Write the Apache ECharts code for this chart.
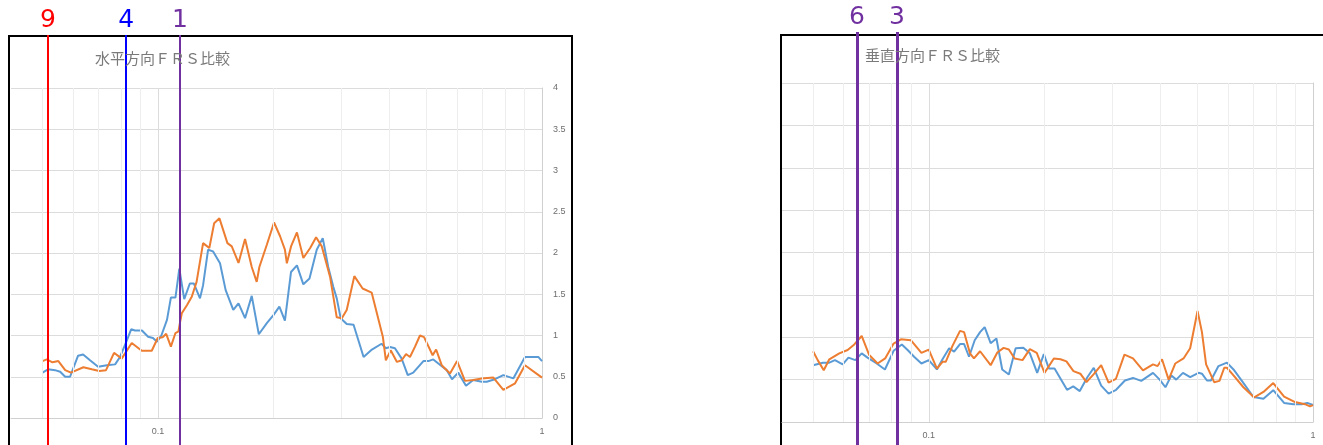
<!DOCTYPE html>
<html>
<head>
<meta charset="utf-8">
<script src="https://cdn.jsdelivr.net/npm/echarts@6/dist/echarts.min.js"></script>
<style>
html,body{margin:0;padding:0;background:#fff;}
#c{width:1323px;height:445px;}
</style>
</head>
<body>
<div id="c"></div>
<script>
// ---- Data ----
// 水平方向 (horizontal) panel
const hFreqBlue = [0.050,0.0517,0.0539,0.0556,0.0573,0.0590,0.0619,0.0638,0.0665,0.0698,0.0736,0.0773,0.0796,0.0826,0.0851,0.0871,0.0908,0.0942,0.0970,0.0994,0.102,0.1055,0.108,0.111,0.1136,0.117,0.121,0.124,0.1286,0.131,0.135,0.139,0.145,0.150,0.157,0.162,0.1685,0.1754,0.183,0.192,0.200,0.207,0.214,0.222,0.230,0.239,0.248,0.259,0.2685,0.2775,0.286,0.292,0.299,0.310,0.323,0.343,0.3606,0.382,0.392,0.402,0.414,0.431,0.447,0.462,0.491,0.506,0.521,0.537,0.565,0.583,0.605,0.634,0.662,0.697,0.718,0.754,0.793,0.842,0.903,0.978,1.0];
const hBlue = [0.55,0.59,0.58,0.56,0.50,0.50,0.755,0.77,0.70,0.62,0.64,0.65,0.74,0.92,1.075,1.06,1.06,0.985,0.97,0.925,1.0,1.19,1.46,1.46,1.81,1.44,1.63,1.63,1.45,1.61,2.04,2.02,1.875,1.55,1.31,1.39,1.21,1.48,1.015,1.15,1.25,1.35,1.18,1.77,1.85,1.62,1.69,2.04,2.18,1.83,1.59,1.45,1.21,1.14,1.13,0.74,0.83,0.90,0.845,0.86,0.845,0.72,0.52,0.55,0.69,0.69,0.71,0.66,0.58,0.47,0.55,0.39,0.46,0.44,0.44,0.47,0.52,0.48,0.74,0.74,0.69];
const hFreqOrange = [0.050,0.0513,0.0531,0.0550,0.0573,0.0593,0.0639,0.0672,0.0703,0.0732,0.0768,0.0804,0.0854,0.0907,0.0963,0.0998,0.1028,0.105,0.108,0.111,0.113,0.114,0.1153,0.119,0.1224,0.126,0.131,0.136,0.140,0.1445,0.1516,0.1556,0.162,0.1685,0.1754,0.1807,0.1836,0.192,0.2005,0.208,0.214,0.2165,0.222,0.230,0.239,0.249,0.258,0.267,0.2806,0.292,0.301,0.310,0.3245,0.341,0.360,0.385,0.392,0.4036,0.419,0.431,0.4425,0.453,0.467,0.481,0.493,0.519,0.530,0.548,0.576,0.601,0.630,0.662,0.697,0.747,0.793,0.851,0.903,1.0];
const hOrange = [0.69,0.71,0.675,0.69,0.58,0.55,0.615,0.59,0.57,0.58,0.79,0.72,0.91,0.815,0.815,0.97,0.98,1.02,0.865,1.03,1.05,1.15,1.27,1.37,1.47,1.65,2.12,2.06,2.36,2.42,2.12,2.08,1.88,2.17,1.83,1.65,1.83,2.10,2.37,2.20,2.04,1.875,2.08,2.25,1.94,2.06,2.19,2.08,1.71,1.22,1.21,1.31,1.72,1.57,1.52,0.985,0.70,0.82,0.68,0.70,0.775,0.74,0.865,1.0,0.98,0.76,0.83,0.64,0.54,0.69,0.45,0.46,0.48,0.49,0.34,0.42,0.64,0.49];

// 垂直方向 (vertical) panel
const vFreqBlue = [0.050,0.053,0.0551,0.0570,0.0597,0.0618,0.0644,0.0669,0.0693,0.0732,0.0769,0.0810,0.0851,0.0881,0.0916,0.0957,0.100,0.105,0.1086,0.113,0.1164,0.1206,0.1236,0.1273,0.1317,0.136,0.1398,0.1449,0.150,0.1553,0.1616,0.1683,0.1762,0.1833,0.1915,0.1993,0.2054,0.2125,0.229,0.2377,0.2472,0.2584,0.2688,0.281,0.2938,0.3073,0.324,0.340,0.3573,0.3834,0.399,0.413,0.428,0.4406,0.4587,0.479,0.5036,0.514,0.5297,0.5424,0.5675,0.597,0.621,0.653,0.6998,0.743,0.788,0.841,0.889,0.934,0.966,1.0];
const vBlue = [0.67,0.70,0.70,0.73,0.68,0.76,0.73,0.81,0.76,0.69,0.62,0.84,0.915,0.85,0.77,0.69,0.73,0.62,0.74,0.87,0.83,0.92,0.92,0.77,0.965,1.06,1.12,0.93,0.985,0.62,0.56,0.87,0.875,0.81,0.58,0.80,0.63,0.63,0.38,0.42,0.365,0.525,0.64,0.43,0.335,0.38,0.49,0.52,0.485,0.58,0.50,0.41,0.55,0.50,0.58,0.53,0.58,0.57,0.49,0.49,0.66,0.70,0.62,0.485,0.295,0.275,0.375,0.225,0.21,0.21,0.225,0.20];
const vFreqOrange = [0.050,0.0514,0.0533,0.0551,0.0585,0.0615,0.064,0.0669,0.070,0.0736,0.077,0.081,0.0846,0.0898,0.0957,0.100,0.105,0.1086,0.1107,0.1152,0.1206,0.1236,0.128,0.1311,0.136,0.1449,0.1508,0.1566,0.1616,0.1673,0.1754,0.1833,0.191,0.2001,0.2116,0.2203,0.2282,0.238,0.248,0.2573,0.2688,0.281,0.2938,0.307,0.323,0.340,0.361,0.3834,0.394,0.4046,0.421,0.438,0.4603,0.479,0.5006,0.514,0.527,0.553,0.571,0.5875,0.597,0.621,0.659,0.703,0.743,0.788,0.841,0.898,0.953,0.982,1.0];
const vOrange = [0.835,0.73,0.61,0.74,0.81,0.85,0.915,1.015,0.79,0.69,0.75,0.925,0.975,0.965,0.815,0.855,0.63,0.71,0.71,0.895,1.075,1.06,0.81,0.75,0.835,0.67,0.82,0.875,0.855,0.75,0.73,0.86,0.815,0.58,0.75,0.74,0.715,0.60,0.57,0.47,0.565,0.67,0.465,0.51,0.795,0.75,0.61,0.68,0.66,0.74,0.50,0.69,0.75,0.87,1.31,1.06,0.68,0.47,0.485,0.64,0.64,0.55,0.41,0.29,0.355,0.46,0.30,0.235,0.21,0.185,0.20];

// Marker lines (frequency, label)
const hMarkFreq = [0.0517, 0.0826, 0.114];
const hMarkLabel = ['9', '4', '1'];
const vMarkFreq = [0.065, 0.0826];
const vMarkLabel = ['6', '3'];

// Log-axis gridline values and titles
const gridFreqs = [0.05,0.06,0.07,0.08,0.09,0.1,0.2,0.3,0.4,0.5,0.6,0.7,0.8,0.9];
const titles = ['水平方向ＦＲＳ比較', '垂直方向ＦＲＳ比較'];

// ---- Styles ----
const hMarkColor = ['#ff0000', '#0000ff', '#7030a0'];
const vMarkColor = ['#7030a0', '#7030a0'];
const BLUE = '#5b9bd5', ORANGE = '#ed7d31';
const GRID_MAJOR = '#dcdcdc', GRID_MINOR = '#eeeeee';
const LABEL = '#6e6e6e';

const zip = (xs, ys) => xs.map((x, i) => [x, ys[i]]);

const chart = echarts.init(document.getElementById('c'), null, {renderer: 'canvas'});

function xLog(gridIndex, min, visible) {
  return {
    type: 'log', logBase: 10, gridIndex, min, max: 1,
    show: visible,
    axisLine: {show: true, onZero: false, lineStyle: {color: '#d0d0d0', width: 1}},
    axisTick: {show: false},
    splitLine: {show: false},
    axisLabel: {show: visible, showMinLabel: false, fontSize: 9, color: LABEL, margin: 9, fontFamily: 'Liberation Sans'}
  };
}
function yVal(gridIndex) {
  return {
    type: 'value', gridIndex, position: 'right', min: 0, max: 4, interval: 0.5,
    axisLine: {show: true, lineStyle: {color: '#d0d0d0'}},
    axisTick: {show: false},
    splitLine: {show: true, lineStyle: {color: GRID_MAJOR, width: 1}},
    axisLabel: {fontSize: 9, color: LABEL, margin: 11, fontFamily: 'Liberation Sans'}
  };
}
function yHidden(gridIndex) {
  return {type: 'value', gridIndex, min: 0, max: 1, show: false};
}
function gridSeries(ax) {
  return {
    type: 'line', xAxisIndex: ax, yAxisIndex: ax, data: [], z: 1, silent: true,
    markLine: {
      silent: true, symbol: 'none', animation: false, precision: 6,
      label: {show: false},
      data: gridFreqs.map(f => ({xAxis: f, lineStyle: {color: f === 0.1 ? GRID_MAJOR : GRID_MINOR, width: 1, type: 'solid'}}))
    }
  };
}
function dataSeries(ax, xs, ys, color) {
  return {
    type: 'line', xAxisIndex: ax, yAxisIndex: ax, data: zip(xs, ys), z: 3,
    showSymbol: false, symbol: 'none', smooth: false,
    lineStyle: {color, width: 2}, itemStyle: {color}
  };
}
function markSeries(ax, freqs, labels, colors, width) {
  return {
    type: 'line', xAxisIndex: ax, yAxisIndex: ax, data: [], z: 10, silent: true,
    markLine: {
      silent: true, symbol: 'none', animation: false, precision: 6,
      label: {show: true, position: 'end', formatter: '{b}', fontSize: 25, distance: 2, fontFamily: 'DejaVu Sans'},
      data: freqs.map((f, i) => ({
        xAxis: f, name: labels[i],
        lineStyle: {color: colors[i], width, type: 'solid'},
        label: {color: colors[i]}
      }))
    }
  };
}

const gridBase = {outerBoundsMode: 'none', containLabel: false};

chart.setOption({
  animation: false,
  backgroundColor: '#ffffff',
  title: [
    {text: titles[0], left: 95, top: 51, padding: 0, textStyle: {fontSize: 15, fontWeight: 'normal', color: '#7a7a7a', fontFamily: 'Noto Sans CJK JP'}},
    {text: titles[1], left: 865, top: 48, padding: 0, textStyle: {fontSize: 15, fontWeight: 'normal', color: '#7a7a7a', fontFamily: 'Noto Sans CJK JP'}}
  ],
  graphic: [
    {type: 'rect', z: 0, shape: {x: 9, y: 36, width: 563, height: 430}, style: {fill: 'none', stroke: '#000', lineWidth: 2}},
    {type: 'rect', z: 0, shape: {x: 781, y: 35, width: 600, height: 430}, style: {fill: 'none', stroke: '#000', lineWidth: 2}}
  ],
  grid: [
    Object.assign({left: 11, right: 781, top: 88, bottom: 27}, gridBase),
    Object.assign({left: 782, right: 10, top: 83, bottom: 23}, gridBase),
    Object.assign({left: 11, right: 781, top: 35, bottom: 0}, gridBase),
    Object.assign({left: 782, right: 10, top: 32, bottom: 0}, gridBase)
  ],
  xAxis: [xLog(0, 0.0414, true), xLog(1, 0.0415, true), xLog(2, 0.0414, false), xLog(3, 0.0415, false)],
  yAxis: [yVal(0), yVal(1), yHidden(2), yHidden(3)],
  series: [
    gridSeries(0),
    gridSeries(1),
    dataSeries(0, hFreqBlue, hBlue, BLUE),
    dataSeries(0, hFreqOrange, hOrange, ORANGE),
    dataSeries(1, vFreqBlue, vBlue, BLUE),
    dataSeries(1, vFreqOrange, vOrange, ORANGE),
    markSeries(2, hMarkFreq, hMarkLabel, hMarkColor, 2),
    markSeries(3, vMarkFreq, vMarkLabel, vMarkColor, 3)
  ]
});
</script>
</body>
</html>
